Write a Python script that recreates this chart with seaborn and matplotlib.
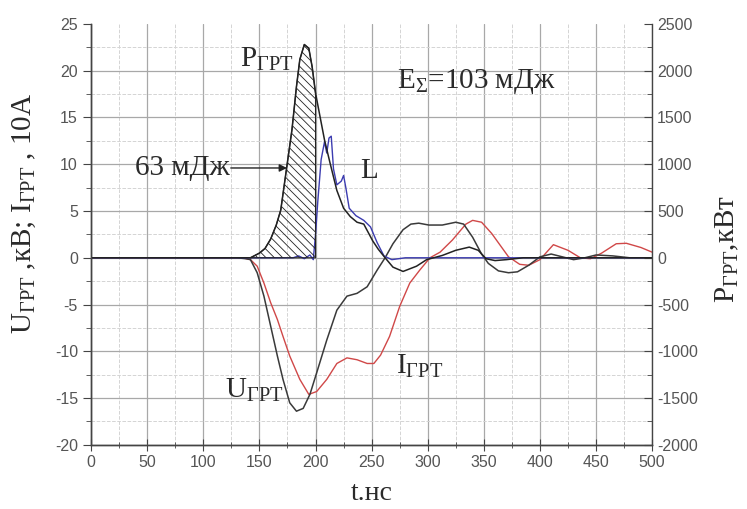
import matplotlib
matplotlib.use("Agg")
import matplotlib.pyplot as plt
import seaborn as sns
from matplotlib.ticker import MultipleLocator

# --- данные, снятые с осциллограммы ---
# напряжение U_ГРТ, кВ
t_u = [0, 130, 138, 142, 148, 154, 160, 166, 171, 177, 183, 189, 195, 201, 210, 219,
       228, 237, 246, 255, 262, 269, 278, 285, 292, 301, 313, 325, 332, 340, 348, 354,
       363, 372, 380, 390, 400, 410, 420, 430, 440, 450, 465, 480, 500]
u_kv = [0, 0, -0.1, -0.2, -1.6, -4.1, -7.3, -10.5, -13.0, -15.5, -16.4, -16.1, -14.6, -12.3, -8.8, -5.6,
        -4.1, -3.8, -3.1, -1.3, 0.0, 1.5, 3.0, 3.6, 3.7, 3.5, 3.5, 3.8, 3.6, 2.2, 0.4, -0.6,
        -1.4, -1.6, -1.5, -0.8, 0.1, 0.4, 0.1, -0.2, 0.0, 0.3, 0.2, 0.0, 0.0]

# ток I_ГРТ, 10 А
t_i = [0, 135, 142, 148, 154, 160, 166, 171, 177, 186, 194, 201, 210, 219, 228, 237,
       246, 252, 258, 266, 275, 284, 293, 302, 311, 322, 334, 340, 348, 357, 366, 372,
       382, 390, 400, 412, 425, 436, 445, 455, 468, 477, 490, 500]
i_10a = [0, 0, -0.2, -0.9, -2.7, -4.8, -6.6, -8.4, -10.5, -13.0, -14.6, -14.3, -13.0, -11.3, -10.7, -10.9,
         -11.3, -11.3, -10.4, -8.4, -5.2, -2.7, -1.3, 0.0, 0.6, 1.9, 3.6, 4.0, 3.8, 2.6, 1.1, 0.1,
         -0.7, -0.8, -0.2, 1.4, 0.8, 0.0, -0.1, 0.5, 1.5, 1.55, 1.1, 0.6]

# мощность P_ГРТ, кВт
t_p = [0, 135, 142, 150, 155, 160, 165, 169, 174, 179, 183, 186, 190, 194, 197, 200,
       204, 208, 213, 219, 225, 231, 237, 243, 251, 256, 262, 269, 278, 290, 299, 313,
       325, 337, 345, 352, 360, 370, 385, 400, 500]
p_kw = [0, 0, 0, 50, 100, 200, 350, 510, 940, 1370, 1830, 2120, 2280, 2240, 2040, 1760,
        1510, 1260, 1010, 720, 530, 440, 380, 360, 180, 90, 0, -100, -146, -90, -20, 25,
        80, 114, 80, -10, -30, -20, 0, 0, 0]

# индуктивная составляющая L
t_l = [0, 180, 185, 190, 195, 198, 200, 202, 205, 208, 210, 212, 214, 216, 219, 223,
       225, 227, 230, 236, 243, 249, 255, 261, 268, 280, 500]
l_val = [0, 0, 0.2, -0.1, 0.3, -0.2, 2.5, 6.0, 10.5, 12.4, 11.2, 12.8, 13.0, 9.5, 7.8, 8.2,
         8.8, 7.5, 5.3, 4.5, 4.0, 3.3, 1.6, 0.2, -0.2, 0, 0]

# участок, заштрихованный как 63 мДж
t_fill = [t for t in t_p if 140 <= t <= 200]
p_fill = [p for t, p in zip(t_p, p_kw) if 140 <= t <= 200]

sns.set_style("white")
plt.rcParams["font.family"] = ["Liberation Serif", "DejaVu Serif"]
plt.rcParams["mathtext.fontset"] = "custom"
plt.rcParams["mathtext.rm"] = "Liberation Serif"
plt.rcParams["axes.unicode_minus"] = False
plt.rcParams["hatch.linewidth"] = 0.6

fig = plt.figure(figsize=(7.47, 5.09), dpi=100)
ax = fig.add_axes([0.122, 0.126, 0.751, 0.827])
ax2 = ax.twinx()

# сетка
ax.set_axisbelow(True)
ax.xaxis.set_major_locator(MultipleLocator(50))
ax.xaxis.set_minor_locator(MultipleLocator(25))
ax.set_yticks(list(range(-20, 30, 5)))
ax.yaxis.set_minor_locator(MultipleLocator(2.5))
ax.grid(which="major", color="#a8a8a8", lw=0.9)
ax.grid(which="minor", color="#d4d4d4", lw=0.7, ls="--")

sns.lineplot(x=t_i, y=i_10a, ax=ax, color="#d04848", lw=1.0, estimator=None)
sns.lineplot(x=t_u, y=u_kv, ax=ax, color="#3a3a3a", lw=1.1, estimator=None)
sns.lineplot(x=t_l, y=l_val, ax=ax, color="#3c3cb0", lw=1.0, estimator=None)
sns.lineplot(x=t_p, y=p_kw, ax=ax2, color="#222222", lw=1.1, estimator=None)
ax2.fill_between(t_fill, 0, p_fill, facecolor="none", edgecolor="#222222",
                 hatch="\\\\\\\\", linewidth=0.8)

ax.set_xlim(0, 500)
ax.set_ylim(-20, 25)
ax2.set_ylim(-2000, 2500)
ax2.yaxis.set_major_locator(MultipleLocator(500))
ax2.yaxis.set_minor_locator(MultipleLocator(250))

# верхней рамки и линии сетки на 25 в оригинале нет
ax.yaxis.get_major_ticks()[-1].gridline.set_visible(False)

for a in (ax, ax2):
    a.spines["top"].set_visible(False)
    for s in ("left", "right", "bottom"):
        a.spines[s].set_color("#444444")
        a.spines[s].set_linewidth(1.0)
ax.spines["right"].set_visible(False)

ax.tick_params(axis="y", which="major", direction="out", length=6, color="#444444",
               labelsize=11.5, labelcolor="#555555", labelfontfamily="Liberation Sans", left=True)
ax.tick_params(axis="y", which="minor", direction="out", length=3.5, color="#444444", left=True)
ax.tick_params(axis="x", which="major", direction="inout", length=8, color="#444444",
               labelsize=11.5, labelcolor="#555555", labelfontfamily="Liberation Sans", bottom=True)
ax.tick_params(axis="x", which="minor", direction="inout", length=5, color="#444444", bottom=True)
ax2.tick_params(axis="y", which="major", direction="in", length=6, color="#444444",
                labelsize=11.5, labelcolor="#555555", labelfontfamily="Liberation Sans", right=True)
ax2.tick_params(axis="y", which="minor", direction="in", length=3.5, color="#444444", right=True)

ax.set_xlabel("t.нс", fontsize=20, color="#2a2a2a", labelpad=8)
ax.set_ylabel(r"$\mathregular{U_{ГРТ}}$ ,кВ; $\mathregular{I_{ГРТ}}$ , 10A", fontsize=21, color="#2a2a2a")
ax.yaxis.set_label_coords(-0.094, 0.55)
ax2.set_ylabel(r"$\mathregular{P_{ГРТ}}$,кВт", fontsize=21, color="#2a2a2a", rotation=90)
ax2.yaxis.set_label_coords(1.11, 0.465)

# подписи на поле графика
ax.text(133, 20.4, r"$\mathregular{P_{ГРТ}}$", fontsize=21, color="#2a2a2a")
ax.text(273, 18.2, r"$\mathregular{E_{Σ}}$=103 мДж", fontsize=21, color="#2a2a2a")
ax.text(39, 9.6, "63 мДж", fontsize=21, va="center", color="#2a2a2a")
ax.annotate("", xy=(177, 9.6), xytext=(122, 9.6),
            arrowprops=dict(arrowstyle="-|>", color="#222222", lw=1.0, mutation_scale=11))
ax.text(240, 8.5, "L", fontsize=21, color="#2a2a2a")
ax.text(119, -15.0, r"$\mathregular{U_{ГРТ}}$", fontsize=21, color="#2a2a2a")
ax.text(272, -12.4, r"$\mathregular{I_{ГРТ}}$", fontsize=21, color="#2a2a2a")

fig.savefig("out.png", dpi=100)
